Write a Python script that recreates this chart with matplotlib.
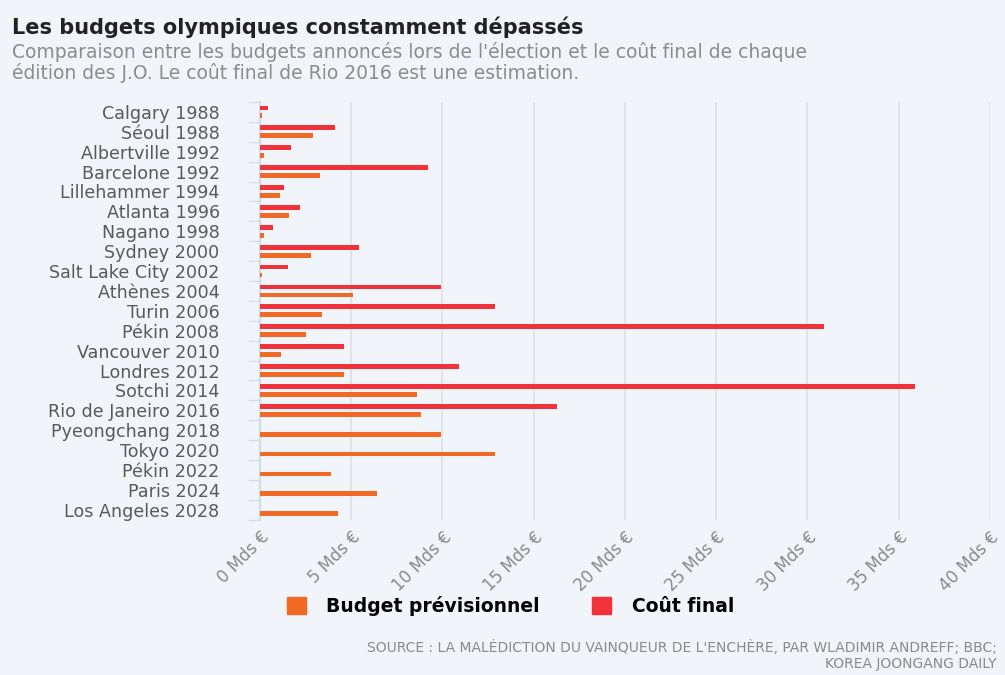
import numpy as np
import matplotlib
matplotlib.use("Agg")
import matplotlib.pyplot as plt
from matplotlib.patches import Patch

# Données (milliards d'euros)
editions = ["Calgary 1988", "Séoul 1988", "Albertville 1992", "Barcelone 1992",
            "Lillehammer 1994", "Atlanta 1996", "Nagano 1998", "Sydney 2000",
            "Salt Lake City 2002", "Athènes 2004", "Turin 2006", "Pékin 2008",
            "Vancouver 2010", "Londres 2012", "Sotchi 2014", "Rio de Janeiro 2016",
            "Pyeongchang 2018", "Tokyo 2020", "Pékin 2022", "Paris 2024",
            "Los Angeles 2028"]
budget_prev = [0.1, 2.9, 0.2, 3.3, 1.1, 1.6, 0.2, 2.8, 0.1, 5.1, 3.4, 2.5,
               1.15, 4.6, 8.6, 8.8, 9.9, 12.9, 3.9, 6.4, 4.3]
cout_final = [0.45, 4.1, 1.7, 9.2, 1.3, 2.2, 0.7, 5.4, 1.55, 9.9, 12.9, 30.9,
              4.6, 10.9, 35.9, 16.3, None, None, None, None, None]
x_ticks = [0, 5, 10, 15, 20, 25, 30, 35, 40]

ORANGE = "#f06a26"
RED = "#f2323a"
BG = "#f1f4f8"
GREY_TXT = "#8a8a8a"

fig = plt.figure(figsize=(10.05, 6.75), dpi=100, facecolor=BG)
ax = fig.add_axes([0.2587, 0.230, 0.7263, 0.619])
ax.set_facecolor(BG)

y = np.arange(len(editions))
h = 0.24
# coût final au-dessus, budget en dessous
red_y = [yy - 0.2 for yy, v in zip(y, cout_final) if v is not None]
ax.barh(red_y, [v for v in cout_final if v is not None], height=h, color=RED, zorder=3)
ax.barh(y + 0.2, budget_prev, height=h, color=ORANGE, zorder=3)

ax.set_xlim(0, 40)
ax.set_ylim(len(editions) - 0.5, -0.5)

ax.set_xticks(x_ticks)
ax.set_xticklabels([f"{t} Mds €" for t in x_ticks], rotation=45, ha="right",
                   rotation_mode="anchor", fontsize=12, color=GREY_TXT)
ax.tick_params(axis="x", length=0, pad=6)
ax.grid(axis="x", color="#dde1e6", linewidth=1.2, zorder=0)

ax.set_yticks(y)
ax.set_yticklabels(editions, fontsize=12.6, color="#5a5a5a")
ax.set_yticks(np.arange(len(editions) + 1) - 0.5, minor=True)
ax.tick_params(axis="y", which="major", length=0, pad=29)
ax.tick_params(axis="y", which="minor", length=9, color="#d8dde3", width=1)

for s in ["top", "right", "bottom"]:
    ax.spines[s].set_visible(False)
ax.spines["left"].set_color("#cfdcec")
ax.spines["left"].set_linewidth(1.5)

# Titre et sous-titre
fig.text(0.012, 0.975, "Les budgets olympiques constamment dépassés",
         fontsize=15, fontweight="bold", color="#222222", va="top")
fig.text(0.012, 0.938, "Comparaison entre les budgets annoncés lors de l'élection et le coût final de chaque\n"
         "édition des J.O. Le coût final de Rio 2016 est une estimation.",
         fontsize=13.5, color="#8c8c8c", va="top", linespacing=1.05)

# Légende
handles = [Patch(color=ORANGE, label="Budget prévisionnel"),
           Patch(color=RED, label="Coût final")]
fig.legend(handles=handles, loc="center", bbox_to_anchor=(0.508, 0.102), ncol=2,
           frameon=False, prop={"weight": "bold", "size": 13.5},
           handlelength=1.0, handleheight=1.0, columnspacing=2.8, handletextpad=1.1)

# Source
fig.text(0.992, 1 - 647 / 675, "SOURCE : LA MALÉDICTION DU VAINQUEUR DE L'ENCHÈRE, PAR WLADIMIR ANDREFF; BBC;",
         fontsize=10, color="#8a8a8a", ha="right", va="center")
fig.text(0.992, 1 - 664 / 675, "KOREA JOONGANG DAILY",
         fontsize=10, color="#8a8a8a", ha="right", va="center")

fig.savefig("out.png", dpi=100, facecolor=BG)
